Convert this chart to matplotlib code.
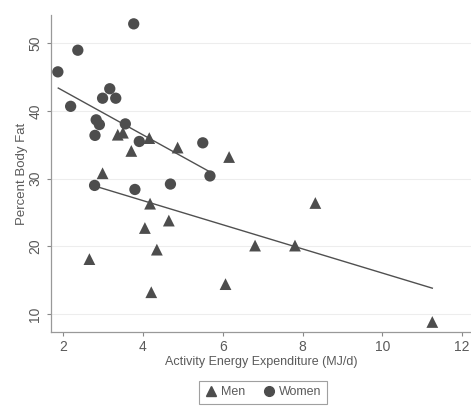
import matplotlib
matplotlib.use("Agg")
import matplotlib.pyplot as plt
from matplotlib.lines import Line2D

plt.rcParams["font.family"] = ["Liberation Sans", "DejaVu Sans"]

# Data
men_x = [3.37, 3.50, 4.16, 4.87, 6.16, 3.71, 2.99, 4.18, 4.65, 4.05, 4.35,
         2.66, 4.21, 6.07, 8.32, 6.81, 7.81, 11.25]
men_y = [36.5, 36.8, 36.0, 34.6, 33.2, 34.1, 30.8, 26.3, 23.8, 22.7, 19.5,
         18.1, 13.2, 14.4, 26.4, 20.1, 20.1, 8.8]

women_x = [1.87, 2.37, 2.19, 3.77, 3.17, 2.99, 3.32, 3.56, 2.83, 2.91, 2.80,
           3.91, 5.50, 5.68, 2.79, 3.80, 4.69]
women_y = [45.8, 49.0, 40.7, 52.9, 43.3, 41.9, 41.9, 38.1, 38.7, 38.0, 36.4,
           35.5, 35.3, 30.4, 29.0, 28.4, 29.2]

# fitted lines (end points)
men_fit_x = [2.80, 11.25]
men_fit_y = [28.9, 13.8]
women_fit_x = [1.88, 5.68]
women_fit_y = [43.4, 31.0]

xticks = [2, 4, 6, 8, 10, 12]
yticks = [10, 20, 30, 40, 50]

mark = "#4d4d4d"
txt = "#5a5a5a"

fig = plt.figure(figsize=(4.71, 4.07), dpi=100)
ax = fig.add_axes([0.1076, 0.184, 0.895, 0.779])

for y in yticks:
    ax.axhline(y, color="#ededed", lw=0.8, zorder=0)

ax.plot(men_fit_x, men_fit_y, color="#505050", lw=1.0, zorder=2)
ax.plot(women_fit_x, women_fit_y, color="#505050", lw=1.0, zorder=2)
ax.scatter(men_x, men_y, marker="^", s=72, color=mark, edgecolors="none", zorder=3)
ax.scatter(women_x, women_y, marker="o", s=66, color=mark, edgecolors="none", zorder=3)

ax.set_xlim(1.69, 12.25)
ax.set_ylim(7.3, 54.2)
ax.set_xticks(xticks)
ax.set_yticks(yticks)
ax.set_yticklabels([str(v) for v in yticks], rotation=90, va="center")
ax.tick_params(colors=txt, labelsize=10, length=3, width=0.8, color="#888888")
ax.tick_params(axis="y", pad=3)
ax.tick_params(axis="x", pad=3)
for s in ["top", "right"]:
    ax.spines[s].set_visible(False)
for s in ["left", "bottom"]:
    ax.spines[s].set_color("#999999")
    ax.spines[s].set_linewidth(0.9)

ax.set_xlabel("Activity Energy Expenditure (MJ/d)", color=txt, fontsize=9, labelpad=1)
ax.set_ylabel("Percent Body Fat", color=txt, fontsize=9.5, labelpad=0)

handles = [
    Line2D([], [], marker="^", ls="none", color=mark, markersize=7, label="Men"),
    Line2D([], [], marker="o", ls="none", color=mark, markersize=7, label="Women"),
]
leg = fig.legend(handles=handles, loc="upper center", bbox_to_anchor=(0.558, 0.08),
                 ncol=2, frameon=True, fancybox=False, fontsize=9,
                 handletextpad=0.3, columnspacing=1.4, borderpad=0.45, handlelength=1.0)
leg.get_frame().set_edgecolor("#888888")
leg.get_frame().set_linewidth(0.8)
for t in leg.get_texts():
    t.set_color(txt)

fig.savefig("out.png", dpi=100)
